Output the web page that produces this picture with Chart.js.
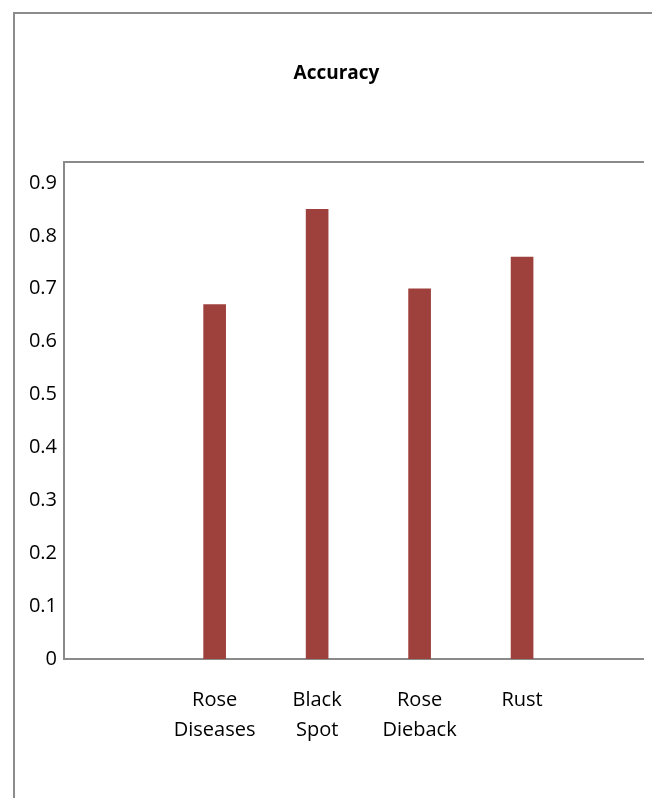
<!DOCTYPE html>
<html lang="en">
<head>
  <meta charset="UTF-8" />
  <title>Accuracy</title>
  <style>
    body { margin: 0; background: #fff; }
    #frame {
      position: absolute; left: 13px; top: 12px; width: 652px; height: 800px;
      border-left: 2px solid #8c8c8c; border-top: 2px solid #8c8c8c;
    }
    #wrap { position: absolute; left: 0; top: 0; width: 652px; height: 798px; }
  </style>
</head>
<body>
  <div id="frame"></div>
  <div id="wrap"><canvas id="chart" width="652" height="798"></canvas></div>

  <script src="https://cdn.jsdelivr.net/npm/chart.js@4.4.0/dist/chart.umd.min.js"></script>
  <script>
    // data
    var categories = [["Rose", "Diseases"], ["Black", "Spot"], ["Rose", "Dieback"], ["Rust"]];
    var accuracy = [0.67, 0.85, 0.70, 0.76];
    var yTicks = [0, 0.1, 0.2, 0.3, 0.4, 0.5, 0.6, 0.7, 0.8, 0.9];

    var axisGray = "#8a8a8a";
    var font = "'Open Sans', sans-serif";

    var points = categories.map(function (c, i) { return { x: i, y: accuracy[i] }; });

    new Chart(document.getElementById("chart"), {
      type: "bar",
      data: {
        datasets: [{
          label: "Accuracy",
          data: points,
          backgroundColor: "#9e413d",
          barThickness: 22
        }]
      },
      options: {
        responsive: false,
        animation: false,
        layout: { padding: { left: 30, right: 9, top: 0, bottom: 0 } },
        plugins: {
          legend: { display: false },
          tooltip: { enabled: false },
          title: {
            display: true,
            text: "Accuracy",
            color: "#000",
            font: { family: font, size: 19, weight: "bold" },
            padding: { top: 62, bottom: 77 }
          }
        },
        scales: {
          x: {
            type: "linear",
            position: "bottom",
            offset: false,
            min: -1.47,
            max: 4.18,
            afterBuildTicks: function (s) {
              s.ticks = categories.map(function (c, i) { return { value: i }; });
            },
            afterFit: function (s) { s.height = 139; },
            ticks: {
              color: "#000",
              font: { family: font, size: 20, lineHeight: 1.5 },
              padding: 26,
              maxRotation: 0,
              autoSkip: false,
              callback: function (v) { return categories[v]; }
            },
            grid: { display: false, drawTicks: false, offset: false },
            border: { display: true, color: axisGray, width: 2 }
          },
          xTop: {
            type: "linear",
            position: "top",
            offset: false,
            min: 0, max: 1,
            afterFit: function (s) { s.height = 0; },
            ticks: { display: false },
            grid: { display: false, drawTicks: false },
            border: { display: true, color: axisGray, width: 2 }
          },
          y: {
            min: 0,
            max: 0.94,
            afterBuildTicks: function (s) {
              s.ticks = yTicks.map(function (v) { return { value: v }; });
            },
            afterFit: function (s) { s.width = 34; },
            ticks: {
              color: "#000",
              font: { family: font, size: 20 },
              padding: 7,
              callback: function (v) { return String(Math.round(v * 10) / 10); }
            },
            grid: { display: false, drawTicks: false },
            border: { display: true, color: axisGray, width: 2 }
          }
        }
      }
    });
  </script>
</body>
</html>
